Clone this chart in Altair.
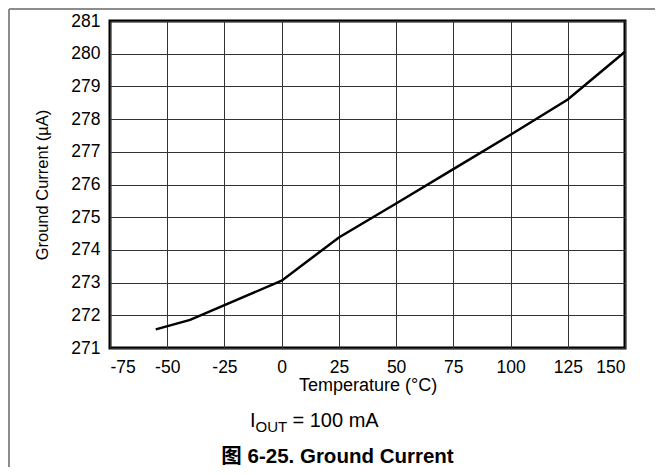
import altair as alt
import pandas as pd

temperature = [-55, -40, 0, 25, 50, 75, 100, 125, 150]
ground_current = [271.57, 271.86, 273.06, 274.38, 275.42, 276.47, 277.52, 278.6, 280.06]

x_ticks = [-75, -50, -25, 0, 25, 50, 75, 100, 125, 150]
y_ticks = [271, 272, 273, 274, 275, 276, 277, 278, 279, 280, 281]

x_title = "Temperature (°C)"
y_title = "Ground Current (µA)"
cond_main = "I"
cond_sub = "OUT"
cond_rest = "= 100 mA"
caption = "图 6-25. Ground Current"

FONT = "Liberation Sans, Arial, Helvetica, Noto Sans CJK SC"

df = pd.DataFrame({"T": temperature, "I": ground_current})

line = alt.Chart(df).mark_line(color="black", strokeWidth=2.5).encode(
    x=alt.X("T:Q", scale=alt.Scale(domain=[-75, 150], nice=False),
            axis=alt.Axis(values=x_ticks, title=x_title, grid=True, gridColor="#333333",
                          gridWidth=1, domain=False, ticks=False, labelPadding=10,
                          labelExpr="toString(datum.value)",
                          labelFontSize=17.5, labelColor="black", labelFont=FONT,
                          titleFont=FONT, titleFontSize=18, titleFontWeight="normal",
                          titleColor="black", titlePadding=1)),
    y=alt.Y("I:Q", scale=alt.Scale(domain=[271, 281], nice=False, zero=False),
            axis=alt.Axis(values=y_ticks, title=y_title, grid=True, gridColor="#333333",
                          gridWidth=1, domain=False, ticks=False, labelPadding=10,
                          labelExpr="toString(datum.value)",
                          labelFontSize=17.5, labelColor="black", labelFont=FONT,
                          titleFont=FONT, titleFontSize=16.5, titleFontWeight="normal",
                          titleColor="black", titlePadding=20)),
)

one = pd.DataFrame({"k": [0]})

t_main = alt.Chart(one).mark_text(text=cond_main, font=FONT, fontSize=20, align="left",
                                  baseline="alphabetic", color="black").encode(
    x=alt.value(140), y=alt.value(406))
t_sub = alt.Chart(one).mark_text(text=cond_sub, font=FONT, fontSize=15, align="left",
                                 baseline="alphabetic", color="black").encode(
    x=alt.value(145.5), y=alt.value(410.5))
t_rest = alt.Chart(one).mark_text(text=cond_rest, font=FONT, fontSize=20, align="left",
                                  baseline="alphabetic", color="black").encode(
    x=alt.value(182.5), y=alt.value(406))
t_cap = alt.Chart(one).mark_text(text=caption, font=FONT, fontSize=20.5, fontWeight="bold",
                                 align="center", baseline="alphabetic", color="black").encode(
    x=alt.value(227.5), y=alt.value(441.5))

frame_left = alt.Chart(one).mark_rule(color="#8c8c8c", strokeWidth=2).encode(
    x=alt.value(-101), y=alt.value(-12), y2=alt.value(446))
frame_top = alt.Chart(one).mark_rule(color="#8c8c8c", strokeWidth=2).encode(
    x=alt.value(-101), x2=alt.value(545), y=alt.value(-12))

chart = alt.layer(line, t_main, t_sub, t_rest, t_cap, frame_left, frame_top).properties(
    width=515, height=327,
    autosize=alt.AutoSizeParams(type="none"),
    padding={"left": 102, "top": 13, "right": 30, "bottom": 119},
    background="white",
).configure_view(stroke="black", strokeWidth=3)

chart.save("out.html", embed_options={"renderer": "svg", "actions": False})
